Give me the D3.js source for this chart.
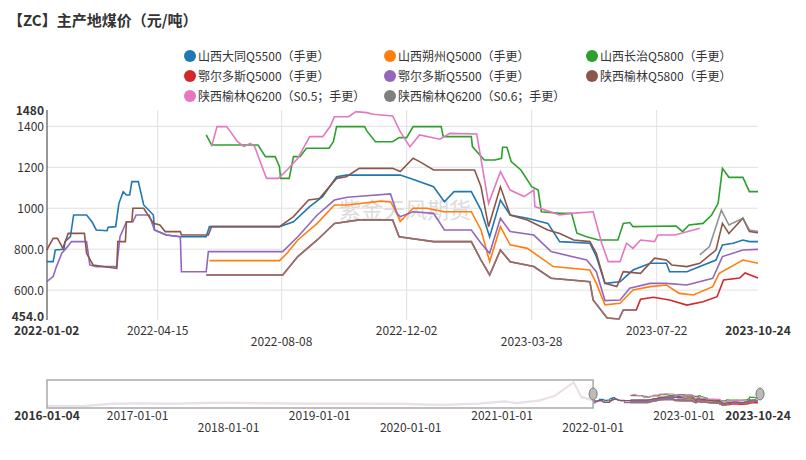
<!DOCTYPE html>
<html><head><meta charset="utf-8">
<script src="https://cdn.jsdelivr.net/npm/d3@7"></script>
<style>
body{margin:0;background:#fff;font-family:"Noto Sans CJK SC","DejaVu Sans",sans-serif;}
text{fill:#333;}
</style></head>
<body><svg id="c" width="806" height="460"></svg>
<script>
// day offsets from 2022-01-02 and price values
const START = new Date(2022, 0, 2);
const END = new Date(2023, 9, 24);
const names = ['山西大同Q5500（手更）','山西朔州Q5000（手更）','山西长治Q5800（手更）',
  '鄂尔多斯Q5000（手更）','鄂尔多斯Q5500（手更）','陕西榆林Q5800（手更）',
  '陕西榆林Q6200（S0.5；手更）','陕西榆林Q6200（S0.6；手更）'];
const colors = ['#1f77b4','#ff7f0e','#2ca02c','#d62728','#9467bd','#8c564b','#e377c2','#7f7f7f'];

const datong = [[0,739],[6,739],[8,796],[16,800],[17,837],[22,861],[25,967],[37,967],[42,934],[46,894],[56,890],[57,907],[64,910],[67,1024],[71,1081],[74,1065],[77,1065],[79,1130],[85,1130],[90,1016],[99,967],[100,894],[111,869],[124,861],[148,861],[151,910],[216,910],[229,934],[244,1008],[256,1057],[269,1154],[278,1162],[321,1162],[328,1162],[337,1146],[359,1105],[369,1032],[378,1081],[394,1081],[403,991],[411,861],[421,1040],[430,967],[446,951],[465,926],[476,837],[504,829],[510,764],[518,633],[532,641],[544,698],[560,731],[575,731],[578,690],[594,690],[606,715],[621,747],[627,821],[637,829],[646,845],[652,837],[660,837]];
const shuozhou = [[151,744],[216,744],[223,780],[233,845],[251,926],[267,1016],[279,1016],[310,1035],[319,1032],[325,975],[328,935],[340,1000],[353,1000],[369,983],[394,983],[403,894],[411,739],[421,910],[430,821],[446,804],[470,715],[504,698],[510,633],[518,528],[532,536],[544,601],[560,617],[575,625],[587,584],[600,576],[618,617],[624,682],[646,747],[660,731]];
const changzhi = [[148,1358],[153,1309],[196,1309],[203,1252],[212,1252],[216,1203],[217,1146],[225,1146],[229,1252],[235,1252],[241,1293],[262,1293],[266,1325],[269,1399],[295,1399],[297,1378],[305,1325],[321,1325],[327,1345],[334,1345],[340,1399],[366,1399],[368,1350],[394,1350],[395,1301],[406,1236],[416,1236],[422,1244],[423,1298],[427,1298],[431,1228],[440,1187],[450,1105],[456,1089],[459,983],[477,975],[487,975],[492,878],[501,861],[512,845],[530,845],[535,926],[541,930],[544,910],[584,913],[590,886],[596,918],[609,926],[617,967],[623,1024],[627,1195],[633,1151],[646,1151],[652,1081],[660,1081]];
const erdos5000 = [[148,674],[219,674],[233,764],[251,845],[267,926],[290,943],[321,943],[327,861],[359,837],[394,837],[403,747],[411,674],[421,796],[430,739],[452,715],[468,658],[504,641],[507,552],[520,464],[531,459],[535,503],[547,503],[551,555],[563,565],[578,552],[594,527],[609,543],[622,568],[628,650],[643,659],[648,684],[660,659]];
const erdos5500 = [[0,642],[6,666],[9,715],[14,780],[18,804],[23,837],[37,837],[40,723],[46,715],[65,715],[68,861],[74,934],[80,934],[83,967],[95,967],[100,894],[111,869],[124,861],[125,690],[148,690],[150,788],[219,788],[233,861],[251,967],[267,1040],[279,1054],[294,1060],[319,1070],[325,975],[328,959],[340,983],[359,975],[369,894],[394,894],[403,829],[411,780],[421,951],[430,886],[452,869],[468,788],[501,747],[510,690],[518,549],[532,552],[541,609],[560,633],[575,633],[594,625],[618,658],[627,764],[646,796],[660,799]];
const yulin5800 = [[0,796],[6,853],[10,853],[15,804],[20,877],[35,877],[37,780],[43,723],[65,706],[66,837],[73,837],[74,934],[79,934],[80,1000],[90,1000],[99,926],[105,918],[110,886],[124,886],[125,869],[150,869],[153,910],[216,910],[229,959],[243,1040],[253,1048],[269,1146],[278,1154],[290,1195],[321,1195],[328,1179],[340,1244],[346,1228],[359,1187],[397,1187],[403,1105],[410,910],[421,1105],[430,967],[446,943],[465,894],[476,877],[489,845],[504,837],[510,780],[518,633],[529,617],[535,690],[551,682],[564,756],[575,747],[580,723],[594,715],[606,731],[621,796],[627,926],[633,877],[646,951],[652,886],[660,881]];
const yulin62a = [[153,1301],[158,1399],[167,1399],[170,1378],[177,1325],[183,1301],[189,1317],[193,1301],[201,1187],[204,1146],[215,1146],[223,1187],[233,1244],[244,1350],[256,1350],[263,1399],[267,1447],[280,1447],[287,1472],[297,1467],[303,1459],[321,1451],[328,1374],[337,1301],[346,1358],[365,1337],[374,1366],[399,1363],[410,1024],[421,1179],[430,1089],[443,1057],[452,1089],[453,1008],[476,967],[487,975],[507,983],[515,829],[521,739],[532,739],[538,829],[544,804],[551,845],[564,837],[567,869],[583,869],[606,902]];
const yulin62b = [[148,674],[219,674],[233,764],[251,845],[267,926],[290,943],[321,943],[327,861],[359,837],[394,837],[403,747],[411,674],[421,796],[430,739],[452,715],[468,658],[504,641],[507,552],[520,464],[531,459],[535,503],[547,503],[548,null],[606,772],[615,813],[626,991],[633,918],[646,951],[652,894],[660,886]];
const series = [datong, shuozhou, changzhi, erdos5000, erdos5500, yulin5800, yulin62a, yulin62b];

const yTicks = [454, 600, 800, 1000, 1200, 1400, 1480];
const yTickLabels = ['454.0','600.0','800.0','1000','1200','1400','1480'];
const xTicks = ['2022-01-02','2022-04-15','2022-08-08','2022-12-02','2023-03-28','2023-07-22','2023-10-24'];
const navTicks = ['2016-01-04','2017-01-01','2018-01-01','2019-01-01','2020-01-01','2021-01-01','2022-01-01','2023-01-01','2023-10-24'];
// faint history shown in the navigator
const history = [['2016-01-04',380],['2016-06-01',400],['2016-10-01',600],['2017-01-01',640],['2017-06-01',600],['2017-12-01',690],['2018-06-01',640],['2018-12-01',620],['2019-06-01',620],['2019-12-01',580],['2020-05-01',500],['2020-10-01',620],['2021-01-10',800],['2021-03-01',650],['2021-06-01',900],['2021-08-01',1300],['2021-10-15',2500],['2021-11-15',1200],['2021-12-31',900]];

const svg = d3.select('#c');
const parse = d3.timeParse('%Y-%m-%d');
const toDate = d => d3.timeDay.offset(START, d);

svg.append('text').attr('x', 8).attr('y', 26).attr('font-size', 15).attr('font-weight', 'bold')
  .text('【ZC】主产地煤价（元/吨）');

// Legend
names.forEach((n, i) => {
  const lx = [190, 390, 592][i % 3], ly = 56 + Math.floor(i / 3) * 20;
  svg.append('circle').attr('cx', lx).attr('cy', ly).attr('r', 6).attr('fill', colors[i]);
  svg.append('text').attr('x', lx + 8).attr('y', ly + 4.5).attr('font-size', 12).text(n);
});

const x = d3.scaleTime().domain([START, END]).range([46.7, 758]);
const y = d3.scaleLinear().domain([454, 1480]).range([320, 110]);

// grid
const grid = svg.append('g').attr('stroke', '#e0e0e0');
[600, 800, 1000, 1200, 1400].forEach(v => grid.append('line')
  .attr('x1', 47).attr('x2', 758).attr('y1', y(v)).attr('y2', y(v)));
xTicks.slice(1, -1).forEach(t => grid.append('line')
  .attr('x1', x(parse(t))).attr('x2', x(parse(t))).attr('y1', 110).attr('y2', 320));
svg.append('line').attr('x1', 47).attr('x2', 47).attr('y1', 110).attr('y2', 320).attr('stroke', '#333');

yTicks.forEach((v, i) => svg.append('text').attr('x', 44)
  .attr('y', v === 454 ? y(v) + 1 : y(v) + 5)
  .attr('text-anchor', 'end').attr('font-size', 12)
  .attr('font-weight', (v === 454 || v === 1480) ? 'bold' : null).text(yTickLabels[i]));
xTicks.forEach((t, i) => {
  const edge = i === 0 || i === xTicks.length - 1;
  svg.append('text').attr('x', x(parse(t))).attr('y', (i === 2 || i === 4) ? 346 : 335)
    .attr('text-anchor', 'middle').attr('font-size', 12).attr('font-weight', edge ? 'bold' : null).text(t);
});

// watermark
svg.append('text').attr('x', 405).attr('y', 218).attr('text-anchor', 'middle').attr('font-size', 22)
  .style('fill', '#dcdcdc').text('紫金天风期货');

const line = d3.line().defined(d => d[1] != null).x(d => x(toDate(d[0]))).y(d => y(d[1]));
series.forEach((s, i) => {
  svg.append('path').attr('d', line(s)).attr('fill', 'none').attr('stroke', colors[i])
    .attr('stroke-width', 1.6).attr('opacity', i === 7 ? 0.85 : 1);
});

// navigator
const nx = d3.scaleTime().domain([parse('2016-01-04'), END]).range([47, 758]);
const ny = d3.scaleLinear().domain([300, 2600]).range([407, 381]);
const nline = d3.line().defined(d => d[1] != null).x(d => nx(toDate(d[0]))).y(d => ny(d[1]));
svg.append('path').attr('d', d3.line().x(d => nx(parse(d[0]))).y(d => ny(d[1]))(history))
  .attr('fill', 'none').attr('stroke', '#c9d6e6').attr('stroke-width', 2);
svg.append('path').attr('d', d3.line().x(d => nx(parse(d[0]))).y(d => ny(d[1] - 40))(history))
  .attr('fill', 'none').attr('stroke', '#e8cdd8').attr('stroke-width', 1.5);
series.forEach((s, i) => svg.append('path').attr('d', nline(s)).attr('fill', 'none')
  .attr('stroke', colors[i]).attr('stroke-width', 1.2));
const bx = nx(parse('2022-01-01'));
svg.append('rect').attr('x', 47).attr('y', 380).attr('width', bx - 47).attr('height', 28)
  .attr('fill', 'rgba(255,255,255,0.35)').attr('stroke', '#aaa').attr('stroke-width', 1.5);
[bx, 760].forEach(hx => svg.append('path')
  .attr('d', `M${hx},388 a4,6 0 0 1 0,12 a4,6 0 0 1 0,-12`).attr('fill', '#bbb').attr('stroke', '#777'));
navTicks.forEach((t, i) => {
  const edge = i === 0 || i === navTicks.length - 1;
  svg.append('text').attr('x', nx(parse(t))).attr('y', [2, 4, 6].includes(i) ? 432 : 420)
    .attr('text-anchor', 'middle').attr('font-size', 12).attr('font-weight', edge ? 'bold' : null).text(t);
});
</script></body></html>
